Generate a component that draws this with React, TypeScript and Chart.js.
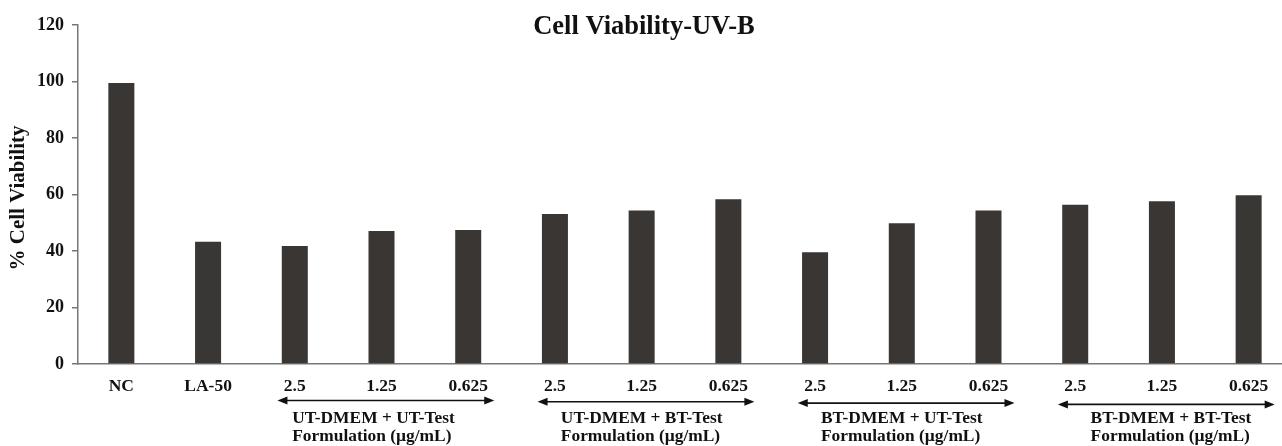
import React, { useEffect, useRef } from "react";
import { Chart, registerables } from "chart.js";

Chart.register(...registerables);

const categories = ["NC", "LA-50", "2.5", "1.25", "0.625", "2.5", "1.25", "0.625", "2.5", "1.25", "0.625", "2.5", "1.25", "0.625"];
const viability = [99.5, 43.3, 41.8, 47.1, 47.4, 53.1, 54.3, 58.3, 39.6, 49.8, 54.3, 56.4, 57.6, 59.7];
const yTicks = [0, 20, 40, 60, 80, 100, 120];
const groupLine1 = ["UT-DMEM + UT-Test", "UT-DMEM + BT-Test", "BT-DMEM + UT-Test", "BT-DMEM + BT-Test"];
const groupLine2 = ["Formulation (\u00b5g/mL)", "Formulation (\u00b5g/mL)", "Formulation (\u00b5g/mL)", "Formulation (\u00b5g/mL)"];
const groupMiddleIndex = [3, 6, 9, 12];

// layout-only tweaks (pixels) for group caption placement
const LABEL_SHIFT = [-8, 0, 0, 9];

const FONT = "'Liberation Serif', 'Times New Roman', serif";

const decorPlugin = {
  id: "decor",
  afterDraw(chart: any) {
    const ctx = chart.ctx;
    const x = chart.scales.x;
    const cat = x.getPixelForValue(1) - x.getPixelForValue(0);
    ctx.save();
    ctx.fillStyle = "#111";
    // title
    ctx.font = `bold 26.5px ${FONT}`;
    ctx.textAlign = "center";
    ctx.textBaseline = "middle";
    ctx.fillText("Cell Viability-UV-B", 644, 27);
    // y title
    ctx.save();
    ctx.translate(19, 198);
    ctx.rotate(-Math.PI / 2);
    ctx.font = `bold 21px ${FONT}`;
    ctx.fillText("% Cell Viability", 0, 0);
    ctx.restore();
    // groups
    groupMiddleIndex.forEach((mi, g) => {
      const c = x.getPixelForValue(mi);
      const x0 = c - 1.2 * cat;
      const x1 = c + 1.3 * cat;
      const ay = 400.5 + g * 1.3;
      ctx.strokeStyle = "#111";
      ctx.lineWidth = 1.6;
      ctx.beginPath();
      ctx.moveTo(x0 + 6, ay);
      ctx.lineTo(x1 - 6, ay);
      ctx.stroke();
      ctx.beginPath();
      ctx.moveTo(x0, ay);
      ctx.lineTo(x0 + 10, ay - 4);
      ctx.lineTo(x0 + 10, ay + 4);
      ctx.closePath();
      ctx.fill();
      ctx.beginPath();
      ctx.moveTo(x1, ay);
      ctx.lineTo(x1 - 10, ay - 4);
      ctx.lineTo(x1 - 10, ay + 4);
      ctx.closePath();
      ctx.fill();
      ctx.font = `bold 17.4px ${FONT}`;
      ctx.textAlign = "left";
      const w = ctx.measureText(groupLine1[g]).width;
      const lx = c - w / 2 + LABEL_SHIFT[g];
      ctx.fillText(groupLine1[g], lx, 419);
      ctx.fillText(groupLine2[g], lx, 437);
    });
    ctx.restore();
  },
};

export default function App() {
  const ref = useRef<HTMLCanvasElement | null>(null);
  useEffect(() => {
    if (!ref.current) return;
    const chart = new Chart(ref.current, {
      type: "bar",
      data: {
        labels: categories,
        datasets: [
          {
            data: viability,
            backgroundColor: "#3a3634",
            borderWidth: 0,
            barPercentage: 0.3,
            categoryPercentage: 1,
          },
        ],
      },
      options: {
        responsive: false,
        animation: false,
        devicePixelRatio: 1,
        layout: { padding: { top: 25, right: 18, left: 0, bottom: 0 } },
        plugins: { legend: { display: false }, title: { display: false }, tooltip: { enabled: false } },
        scales: {
          x: {
            offset: true,
            grid: { display: false },
            border: { display: true, color: "#777", width: 1.5 },
            ticks: { color: "#111", font: { family: FONT, size: 17.5, weight: "bold" }, padding: 4, maxRotation: 0, autoSkip: false },
            afterFit(scale: any) {
              scale.height = 82;
            },
          },
          y: {
            min: 0,
            max: 120,
            afterBuildTicks(scale: any) {
              scale.ticks = yTicks.map((v) => ({ value: v }));
            },
            grid: { drawOnChartArea: false, drawTicks: true, tickLength: 6, color: "#777", lineWidth: 1.5 },
            border: { display: true, color: "#777", width: 1.5 },
            ticks: { color: "#111", font: { family: FONT, size: 18, weight: "bold" }, padding: 8 },
            afterFit(scale: any) {
              scale.width = 78;
            },
          },
        },
      },
      plugins: [decorPlugin],
    } as any);
    return () => chart.destroy();
  }, []);
  return (
    <div style={{ position: "fixed", left: 0, top: 0, width: 1282, height: 446, overflow: "hidden", background: "#fff" }}>
      <canvas ref={ref} width={1310} height={446} style={{ display: "block" }} />
    </div>
  );
}
